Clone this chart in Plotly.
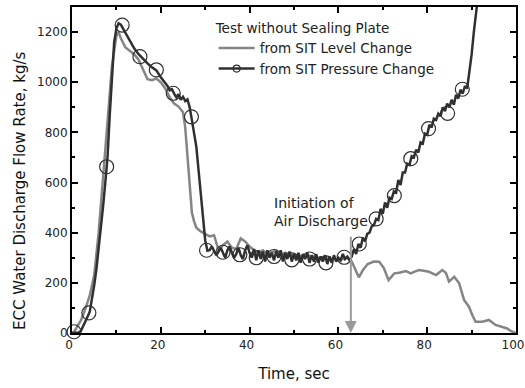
import plotly.graph_objects as go

# ---- data ----
level_t = [0, 0.5, 1, 2, 3, 4, 5, 6, 7, 8,
           9, 10, 10.5, 11, 12, 13, 14, 15, 16, 17,
           18, 19, 20, 21, 22, 23, 24, 25, 25.5, 26,
           26.5, 27, 27.5, 28, 29, 30, 31, 32, 33, 34,
           35, 36, 37, 38, 39, 40, 41, 42, 43, 44,
           45, 46, 47, 48, 49, 50, 51, 52, 53, 54,
           55, 56, 57, 58, 59, 60, 61, 62, 63, 64,
           64.6, 65.5, 66.6, 68, 69.2, 70.2, 71.3, 72.6, 73.7, 75.2,
           76.3, 77.2, 78.2, 79.2, 80.4, 82, 83.4, 84.2, 84.9, 86.1,
           87.2, 88.3, 89.4, 90.2, 90.9, 92.4, 93.9, 95.4, 96.9, 98,
           98.8, 100]
level_v = [0, 5, 20, 50, 95, 150, 230, 400, 620, 860,
           1065, 1185, 1200, 1175, 1140, 1125, 1112, 1090, 1050, 1012,
           1008, 1015, 1000, 975, 940, 915, 903, 880, 820, 710,
           590, 480, 445, 420, 405, 395, 385, 390, 330, 350,
           365, 340, 335, 377, 365, 345, 330, 320, 330, 315,
           322, 328, 312, 320, 315, 305, 312, 300, 310, 305,
           300, 298, 302, 292, 296, 290, 295, 300, 285, 245,
           222, 250, 275, 285, 284, 260, 211, 238, 240, 247,
           238, 245, 251, 248, 244, 231, 251, 240, 205, 224,
           198, 132, 105, 70, 45, 45, 52, 32, 23, 18,
           8, 0]

press_t = [0, 1, 1.5, 2, 2.5, 3, 3.5, 4, 4.5, 5,
           5.5, 6, 6.5, 7, 7.5, 8, 8.5, 9, 9.5, 10,
           10.5, 11, 11.5, 12, 13, 14, 15, 16, 17, 18,
           19, 20, 21, 21.5, 22, 22.5, 23, 23.5, 24, 24.5,
           25, 25.5, 26, 26.5, 27, 27.5, 28, 28.5, 29, 29.5,
           30, 30.5,
           31, 31.5, 32, 32.5, 33, 33.5, 34, 34.5, 35, 35.5,
           36, 36.5, 37, 37.5, 38, 38.5, 39, 39.5, 40, 40.5,
           41, 41.5, 42, 42.5, 43, 43.5, 44, 44.5, 45, 45.5,
           46, 46.5, 47, 47.5, 48, 48.5, 49, 49.5, 50, 50.5,
           51, 51.5, 52, 52.5, 53, 53.5, 54, 54.5, 55, 55.5,
           56, 56.5, 57, 57.5, 58, 58.5, 59, 59.5, 60, 60.5,
           61, 61.5, 62, 62.5,
           63, 63.5, 64, 64.5, 65, 65.5, 66, 66.5, 67, 67.5,
           68, 68.5, 69, 69.5, 70, 70.5, 71, 71.5, 72, 72.5,
           73, 73.5, 74, 74.5, 75, 75.5, 76, 76.5, 77, 77.5,
           78, 78.5, 79, 79.5, 80, 80.5, 81, 81.5, 82, 82.5,
           83, 83.5, 84, 84.5, 85, 85.5, 86, 86.5, 87, 87.5,
           88, 88.5, 89, 89.5, 90, 90.5, 91, 91.5]
press_v = [0, 0, 2, 8, 25, 48, 65, 85, 130, 190,
           255, 330, 415, 505, 600, 700, 870, 1040, 1160, 1215,
           1235, 1230, 1215, 1195, 1165, 1135, 1112, 1092, 1075, 1060,
           1047, 1020, 998, 985, 968, 972, 955, 940, 952, 930,
           942, 925, 932, 900, 850, 800, 743, 650, 550, 450,
           370, 328,
           330, 345, 330, 310, 325, 340, 320, 300, 330, 345,
           320, 300, 315, 340, 310, 295, 330, 350, 320, 300,
           335, 290, 330, 295, 325, 285, 330, 300, 320, 290,
           325, 300, 330, 285, 320, 295, 325, 285, 315, 290,
           320, 280, 315, 295, 320, 280, 310, 285, 315, 280,
           305, 285, 310, 275, 305, 280, 310, 285, 300, 290,
           315, 295, 305, 290,
           305, 335, 315, 355, 340, 380, 365, 395, 400, 425,
           430, 455, 450, 495, 475, 520, 500, 540, 535, 565,
           560, 610, 590, 640, 640, 675, 670, 705, 700, 730,
           720, 760, 755, 795, 790, 830, 820, 855, 850, 875,
           865, 900, 885, 915, 900, 930, 910, 950, 935, 970,
           955, 985, 975, 1040, 1110, 1200, 1280, 1350]

marker_t = [0.45, 3.8, 7.8, 11.3, 15.3, 19, 22.8, 26.9, 30.3, 34,
            37.8, 41.5, 45.5, 49.5, 53.5, 57.2, 61.3, 64.7, 68.5, 72.6,
            76.3, 80.3, 84.6, 87.9]
marker_v = [5, 80, 663, 1228, 1102, 1049, 956, 862, 330, 322,
            312, 300, 305, 292, 295, 280, 302, 355, 455, 548,
            695, 815, 876, 972]

x_ticks = [0, 20, 40, 60, 80, 100]
y_ticks = [0, 200, 400, 600, 800, 1000, 1200]

GRAY = "#858585"
DARK = "#303030"
FONT = "DejaVu Sans"

fig = go.Figure()
fig.add_trace(go.Scatter(x=level_t, y=level_v, mode="lines",
                         line=dict(color=GRAY, width=2.5), showlegend=False))
fig.add_trace(go.Scatter(x=press_t, y=press_v, mode="lines",
                         line=dict(color=DARK, width=2.5), showlegend=False))
fig.add_trace(go.Scatter(x=marker_t, y=marker_v, mode="markers",
                         marker=dict(symbol="circle-open", size=14, color=DARK,
                                     line=dict(width=1.2, color=DARK)),
                         showlegend=False, cliponaxis=False))
fig.add_trace(go.Scatter(x=[None], y=[None], mode="lines",
                         line=dict(color=GRAY, width=2.5),
                         name="from SIT Level Change"))
fig.add_trace(go.Scatter(x=[None], y=[None], mode="lines+markers",
                         line=dict(color=DARK, width=2.5),
                         marker=dict(symbol="circle-open", size=7, color=DARK,
                                     line=dict(width=1.2, color=DARK)),
                         name="from SIT Pressure Change"))

axis_common = dict(showline=True, linecolor="black", linewidth=2, mirror="allticks",
                   ticks="inside", ticklen=6, tickwidth=1.5, tickcolor="black",
                   showgrid=False, zeroline=False, automargin=False,
                   ticklabeloverflow="allow",
                   tickfont=dict(family=FONT, size=12, color="#222"))

fig.update_xaxes(range=[0, 100], tickmode="array", tickvals=x_ticks,
                 ticklabelshift=-3,
                 minor=dict(ticks="inside", ticklen=3, tickwidth=1.5, tickcolor="black",
                            tick0=0, dtick=10, showgrid=False),
                 title=dict(text="Time, sec", font=dict(family=FONT, size=15, color="#111"),
                            standoff=17),
                 **axis_common)
fig.update_yaxes(range=[0, 1300], tickmode="array", tickvals=y_ticks,
                 minor=dict(ticks="inside", ticklen=3, tickwidth=1.5, tickcolor="black",
                            tick0=0, dtick=100, showgrid=False),
                 **axis_common)

# y-axis title (placed slightly below the axis centre, as in the reference)
fig.add_annotation(text="ECC Water Discharge Flow Rate, kg/s", textangle=-90,
                   xref="paper", yref="paper", x=-0.117, y=0.436,
                   xanchor="center", yanchor="middle", showarrow=False,
                   font=dict(family=FONT, size=15, color="#111"))

fig.add_annotation(x=62.8, y=0, ax=62.8, ay=390, xref="x", yref="y",
                   axref="x", ayref="y", text="", showarrow=True,
                   arrowhead=2, arrowsize=1.2, arrowwidth=2, arrowcolor="#9a9a9a")
fig.add_annotation(x=45.0, y=560, xref="x", yref="y", xanchor="left", yanchor="top",
                   align="left", showarrow=False,
                   text="Initiation of<br>Air Discharge",
                   font=dict(family=FONT, size=14, color="#222"))

fig.update_layout(
    width=525, height=388,
    margin=dict(l=72, r=9, t=7, b=55),
    paper_bgcolor="white", plot_bgcolor="white",
    font=dict(family=FONT, size=12, color="#222"),
    legend=dict(title=dict(text="Test without Sealing Plate",
                           font=dict(family=FONT, size=13.5, color="#222")),
                x=0.319, y=0.975, xanchor="left", yanchor="top",
                bgcolor="rgba(0,0,0,0)", borderwidth=0, itemwidth=36,
                font=dict(family=FONT, size=13.5, color="#222"),
                tracegroupgap=0),
)

fig.write_html("out.html", config={"displayModeBar": False},
               post_script="document.body.style.margin='0';")
